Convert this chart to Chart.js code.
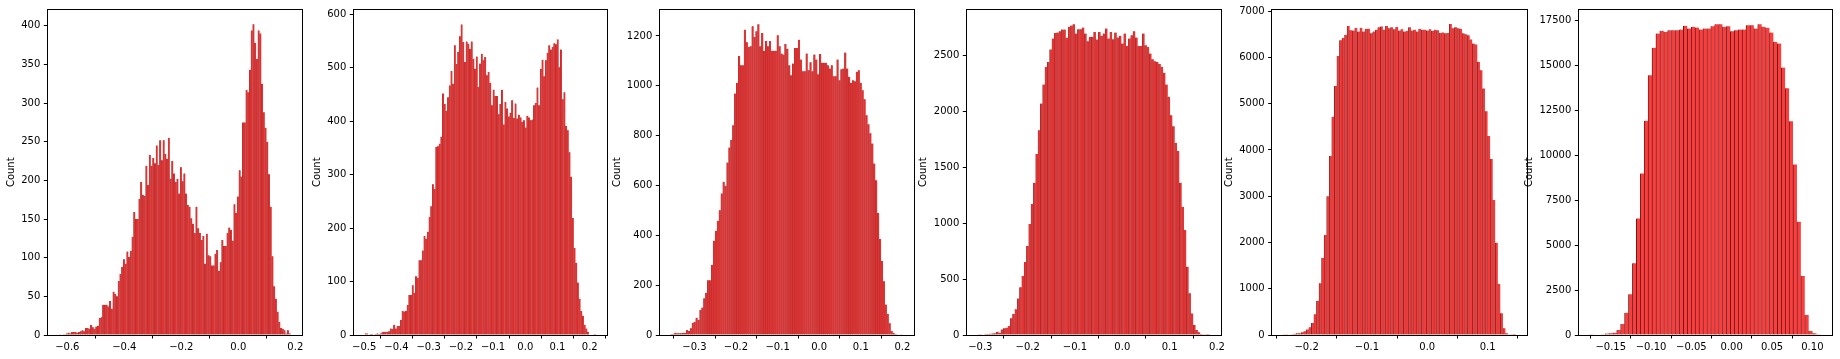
<!DOCTYPE html>
<html><head><meta charset="utf-8">
<script src="https://cdn.jsdelivr.net/npm/chart.js@4.4.1/dist/chart.umd.min.js"></script>
<style>
html,body{margin:0;padding:0;background:#fff;width:1840px;height:359px;overflow:hidden}
canvas{position:absolute;left:0;top:0}
</style></head>
<body>
<script>
// ---------------- DATA ----------------
const counts1 = [1,0,1,1,2,3,2,4,4,4,3,4,5,6,5,9,9,8,13,10,8,11,12,
  22,23,39,39,39,37,44,34,56,53,50,70,79,88,98,92,108,101,109,127,159,150,150,176,198,181,180,219,194,233,219,229,222,245,220,252,226,252,234,228,255,202,225,209,198,202,183,217,199,209,183,168,166,151,144,132,166,138,132,123,128,92,
  131,103,102,90,90,105,110,83,94,123,115,115,132,139,136,122,169,158,179,213,205,275,275,317,314,343,394,402,378,357,394,390,325,288,268,250,208,166,102,63,47,30,17,9,8,6,2,6,2];
const counts2 = [3,3,1,2,2,1,2,3,2,
  3,5,6,6,6,7,12,11,19,12,17,17,28,45,44,45,56,75,75,93,79,110,107,140,140,158,185,180,193,221,241,282,273,352,353,358,371,452,432,419,445,467,494,470,542,507,530,559,581,548,511,549,545,535,549,517,498,521,464,508,526,514,520,486,492,472,430,
  459,447,447,413,432,459,394,436,424,409,416,439,406,433,405,412,407,399,402,388,410,407,402,403,430,434,463,430,498,515,484,514,528,542,534,539,546,544,553,501,534,441,454,391,383,342,296,219,163,135,98,68,45,36,19,12,6,1,0,0,2];
const counts3 = [4,5,9,7,7,
  7,9,8,20,16,27,49,53,69,60,100,110,147,170,220,220,281,378,418,458,501,568,615,599,692,752,782,842,969,1012,1119,1082,1082,1225,1175,1156,1159,1239,1196,1219,1247,1159,1212,1140,1180,1159,1180,1140,1140,1140,1203,1159,1129,1125,1168,1149,1082,1042,1089,1152,1152,
  1185,1105,1058,1058,1129,1062,1094,1058,1125,1105,1046,1127,1092,1092,1092,1082,1069,1082,1038,1038,1105,1022,1066,1069,1133,1069,1036,1012,1022,1018,1056,1062,1012,982,946,882,846,809,768,688,621,490,385,297,216,122,84,47,16,9,4,3,2,1];
const counts4 = [2,3,5,8,10,12,14,15,
  30,20,50,60,65,80,149,188,229,327,426,527,652,795,991,1170,1360,1616,1830,2068,
  2238,2396,2440,2551,2649,2699,2702,2714,2729,2729,2655,2753,2765,2777,2693,2732,2732,2747,2693,2625,
  2664,2664,2708,2640,2708,2673,2693,2738,2649,2708,2643,2702,2658,2673,2604,2693,2583,2649,2679,2714,
  2658,2583,2583,2693,2589,2574,2515,2464,2446,2440,2420,2396,2342,2238,2128,1964,1866,1717,1643,1360,
  1146,938,610,372,193,89,45,24,9,3,2,1];
const counts5 = [3,8,12,18,25,36,
  40,60,80,120,170,260,450,740,1120,1670,2160,3000,3870,4720,5380,6030,6370,6420,6490,
  6680,6590,6580,6640,6560,6640,6560,6620,6620,6520,6560,6600,6650,6670,6600,6680,6630,6650,6610,6660,
  6580,6610,6560,6570,6650,6580,6600,6560,6620,6600,6600,6580,6610,6570,6600,6590,6530,6540,6520,6530,
  6720,6630,6650,6630,6620,6520,6500,6480,6390,6300,
  6280,5905,5725,5329,4839,4299,3802,2916,1995,1102,468,144,36,14,5,2];
const counts6 = [15,25,30,45,80,93,130,280,612,1243,2264,3990,6495,9000,11933,14475,15997,16795,16943,16887,
  16980,16980,16980,17017,17221,17073,17166,17128,17017,17073,17073,17203,17314,17314,17166,17203,16924,16980,17017,17017,
  17258,17258,17073,17314,17166,17110,16850,16330,16238,14900,13740,11910,9500,6310,3285,1113,223,93,37];

// histogram bin range (first edge, last edge) for each panel
const binRange1 = [-0.628, 0.184];
const binRange2 = [-0.498, 0.2187];
const binRange3 = [-0.357, 0.200];
const binRange4 = [-0.3053, 0.1842];
const binRange5 = [-0.2387, 0.1466];
const binRange6 = [-0.1765, 0.1100];

// axis ranges
const xRange1 = [-0.6702, 0.2246];
const xRange2 = [-0.5338, 0.2545];
const xRange3 = [-0.3844, 0.2279];
const xRange4 = [-0.3296, 0.2085];
const xRange5 = [-0.2579, 0.1658];
const xRange6 = [-0.1902, 0.1247];
const yMax1 = 421, yMax2 = 609, yMax3 = 1306, yMax4 = 2908, yMax5 = 7036, yMax6 = 18131;

// tick values and labels
const xTicks1 = [-0.6, -0.4, -0.2, 0.0, 0.2];
const xLabels1 = ["\u22120.6", "\u22120.4", "\u22120.2", "0.0", "0.2"];
const xTicks2 = [-0.5, -0.4, -0.3, -0.2, -0.1, 0.0, 0.1, 0.2];
const xLabels2 = ["\u22120.5", "\u22120.4", "\u22120.3", "\u22120.2", "\u22120.1", "0.0", "0.1", "0.2"];
const xTicks3 = [-0.3, -0.2, -0.1, 0.0, 0.1, 0.2];
const xLabels3 = ["\u22120.3", "\u22120.2", "\u22120.1", "0.0", "0.1", "0.2"];
const xTicks4 = [-0.3, -0.2, -0.1, 0.0, 0.1, 0.2];
const xLabels4 = ["\u22120.3", "\u22120.2", "\u22120.1", "0.0", "0.1", "0.2"];
const xTicks5 = [-0.2, -0.1, 0.0, 0.1];
const xLabels5 = ["\u22120.2", "\u22120.1", "0.0", "0.1"];
const xTicks6 = [-0.15, -0.10, -0.05, 0.00, 0.05, 0.10];
const xLabels6 = ["\u22120.15", "\u22120.10", "\u22120.05", "0.00", "0.05", "0.10"];

const yTicks1 = [0, 50, 100, 150, 200, 250, 300, 350, 400];
const yTicks2 = [0, 100, 200, 300, 400, 500, 600];
const yTicks3 = [0, 200, 400, 600, 800, 1000, 1200];
const yTicks4 = [0, 500, 1000, 1500, 2000, 2500];
const yTicks5 = [0, 1000, 2000, 3000, 4000, 5000, 6000, 7000];
const yTicks6 = [0, 2500, 5000, 7500, 10000, 12500, 15000, 17500];

const yTitle = "Count";

// ---------------- LAYOUT / STYLE ----------------
const W = 1840, H = 359, TOP = 9.3, BOTTOM = 335;
const layouts = [
  {L: 47.3,   R: 302.3,  titleC: 11.0,   edge: 0.4,  fill: 'rgb(220,52,52)', edgeColor: 'rgb(160,38,38)'},
  {L: 353.3,  R: 607.3,  titleC: 317.3,  edge: 0.4,  fill: 'rgb(222,52,52)', edgeColor: 'rgb(160,38,38)'},
  {L: 659.3,  R: 914.0,  titleC: 617.3,  edge: 0.42, fill: 'rgb(220,52,52)', edgeColor: 'rgb(160,38,38)'},
  {L: 966.3,  R: 1221.0, titleC: 923.3,  edge: 0.5,  fill: 'rgb(226,54,54)', edgeColor: 'rgb(130,32,32)'},
  {L: 1271.7, R: 1527.3, titleC: 1229.3, edge: 0.6,  fill: 'rgb(242,60,60)', edgeColor: 'rgb(85,22,22)'},
  {L: 1578.3, R: 1832.3, titleC: 1529.5, edge: 0.8,  fill: 'rgb(250,62,62)', edgeColor: 'rgb(70,18,18)'}
];
const FONT = {family: 'DejaVu Sans', size: 10};
const TXT = '#000';

const panels = [
  {counts: counts1, bins: binRange1, xr: xRange1, ymax: yMax1, xt: xTicks1, xl: xLabels1, yt: yTicks1},
  {counts: counts2, bins: binRange2, xr: xRange2, ymax: yMax2, xt: xTicks2, xl: xLabels2, yt: yTicks2},
  {counts: counts3, bins: binRange3, xr: xRange3, ymax: yMax3, xt: xTicks3, xl: xLabels3, yt: yTicks3},
  {counts: counts4, bins: binRange4, xr: xRange4, ymax: yMax4, xt: xTicks4, xl: xLabels4, yt: yTicks4},
  {counts: counts5, bins: binRange5, xr: xRange5, ymax: yMax5, xt: xTicks5, xl: xLabels5, yt: yTicks5},
  {counts: counts6, bins: binRange6, xr: xRange6, ymax: yMax6, xt: xTicks6, xl: xLabels6, yt: yTicks6}
];

const framePlugin = {
  id: 'frame',
  afterDraw(chart) {
    const {ctx, chartArea: a} = chart;
    ctx.save();
    ctx.strokeStyle = '#000';
    ctx.lineWidth = 1;
    const l = Math.floor(a.left) + 0.5, r = Math.floor(a.right) + 0.5;
    const t = Math.floor(a.top) + 0.5, b = Math.floor(a.bottom) + 0.5;
    ctx.strokeRect(l, t, r - l, b - t);
    ctx.restore();
  }
};

panels.forEach((p, k) => {
  const lay = layouts[k];
  const canvas = document.createElement('canvas');
  canvas.width = W; canvas.height = H;
  canvas.style.width = W + 'px'; canvas.style.height = H + 'px';
  document.body.appendChild(canvas);
  const n = p.counts.length;
  const bw = (p.bins[1] - p.bins[0]) / n;
  const data = p.counts.map((c, i) => ({x: p.bins[0] + (i + 0.5) * bw, y: c}));
  const yW = lay.L - lay.titleC + 10;
  new Chart(canvas, {
    type: 'bar',
    data: {datasets: [{
      data,
      backgroundColor: lay.fill,
      borderColor: lay.edgeColor,
      borderWidth: {left: lay.edge, top: 0, bottom: 0, right: 0},
      inflateAmount: 0.35,
      barPercentage: 1,
      categoryPercentage: 1
    }]},
    options: {
      responsive: false, animation: false, devicePixelRatio: 1, events: [],
      layout: {padding: {left: lay.titleC - 10, right: W - lay.R, top: TOP, bottom: 0}},
      plugins: {legend: {display: false}, tooltip: {enabled: false}},
      scales: {
        x: {
          type: 'linear', min: p.xr[0], max: p.xr[1], offset: false,
          grid: {display: true, drawOnChartArea: false, drawTicks: true, tickLength: 3.5, color: '#000', lineWidth: 1},
          border: {display: false},
          ticks: {font: FONT, color: TXT, padding: 2.5, autoSkip: false, maxRotation: 0, minRotation: 0,
                  callback: (v, i) => p.xl[i]},
          afterBuildTicks: s => { s.ticks = p.xt.map(v => ({value: v})); },
          afterFit: s => { s.height = H - BOTTOM; }
        },
        y: {
          type: 'linear', min: 0, max: p.ymax,
          grid: {display: true, drawOnChartArea: false, drawTicks: true, tickLength: 3.5, color: '#000', lineWidth: 1},
          border: {display: false},
          ticks: {font: FONT, color: TXT, padding: 3.5, autoSkip: false, callback: (v, i) => String(p.yt[i])},
          afterBuildTicks: s => { s.ticks = p.yt.map(v => ({value: v})); },
          afterFit: s => { s.width = yW; },
          title: {display: true, text: yTitle, font: FONT, color: TXT, padding: {top: 4, bottom: 4}}
        }
      }
    },
    plugins: [framePlugin]
  });
});
</script>
</body></html>
